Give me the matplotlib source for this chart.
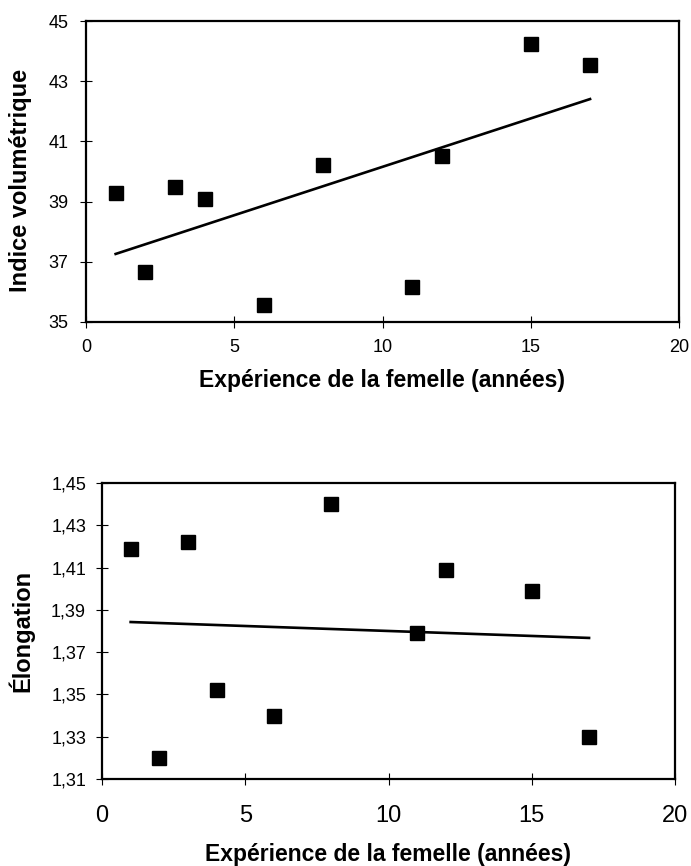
import numpy as np
import matplotlib.pyplot as plt
from matplotlib.ticker import FuncFormatter

plt.rcParams['font.family'] = ['Liberation Sans', 'DejaVu Sans']

# experience of the female (years)
experience = [1, 2, 3, 4, 6, 8, 11, 12, 15, 17]
# volumetric index
indice_vol = [39.29, 36.67, 39.49, 39.08, 35.58, 40.22, 36.17, 40.52, 44.24, 43.54]
# elongation
elongation = [1.419, 1.320, 1.422, 1.352, 1.340, 1.440, 1.379, 1.409, 1.399, 1.330]

xlabel = "Expérience de la femelle (années)"

W, H = 691, 866
fig = plt.figure(figsize=(W / 100, H / 100), dpi=100)


def px_axes(left, top, right, bottom):
    return fig.add_axes([left / W, 1 - bottom / H, (right - left) / W, (bottom - top) / H])


def style(ax, xpad, ypad, xsize, ysize):
    for s in ax.spines.values():
        s.set_linewidth(1.6)
        s.set_color("black")
    ax.tick_params(axis="both", direction="inout", length=9, width=0.8, color="black")
    ax.tick_params(axis="x", pad=xpad, labelsize=xsize)
    ax.tick_params(axis="y", pad=ypad, labelsize=ysize)


def scatter_trend(ax, x, y):
    x = np.asarray(x, dtype=float)
    y = np.asarray(y, dtype=float)
    ax.plot(x, y, "s", color="black", markersize=10, zorder=3)
    slope, intercept = np.polyfit(x, y, 1)
    xs = np.array([x.min(), x.max()])
    ax.plot(xs, slope * xs + intercept, color="black", linewidth=1.9, zorder=2)


# top chart
ax1 = px_axes(86, 21, 679, 322)
scatter_trend(ax1, experience, indice_vol)
ax1.set_xlim(0, 20)
ax1.set_ylim(35, 45)
ax1.set_xticks([0, 5, 10, 15, 20])
ax1.set_yticks([35, 37, 39, 41, 43, 45])
style(ax1, xpad=8, ypad=8, xsize=13, ysize=13)
fig.text(382 / W, 1 - 387 / H, xlabel, ha="center", va="baseline",
         fontsize=16.5, fontweight="bold")
fig.text(21 / W, 1 - 180 / H, "Indice volumétrique", ha="center", va="center",
         rotation=90, fontsize=17, fontweight="bold")

# bottom chart
ax2 = px_axes(102, 483, 675, 779)
scatter_trend(ax2, experience, elongation)
ax2.set_xlim(0, 20)
ax2.set_ylim(1.31, 1.45)
ax2.set_xticks([0, 5, 10, 15, 20])
ax2.set_yticks([1.31, 1.33, 1.35, 1.37, 1.39, 1.41, 1.43, 1.45])
ax2.yaxis.set_major_formatter(FuncFormatter(lambda v, p: f"{v:.2f}".replace(".", ",")))
style(ax2, xpad=14, ypad=7, xsize=17, ysize=13)
fig.text(388 / W, 1 - 861 / H, xlabel, ha="center", va="baseline",
         fontsize=16.5, fontweight="bold")
fig.text(21 / W, 1 - 631 / H, "Élongation", ha="center", va="center",
         rotation=90, fontsize=17, fontweight="bold")

fig.savefig("out.png", dpi=100)
